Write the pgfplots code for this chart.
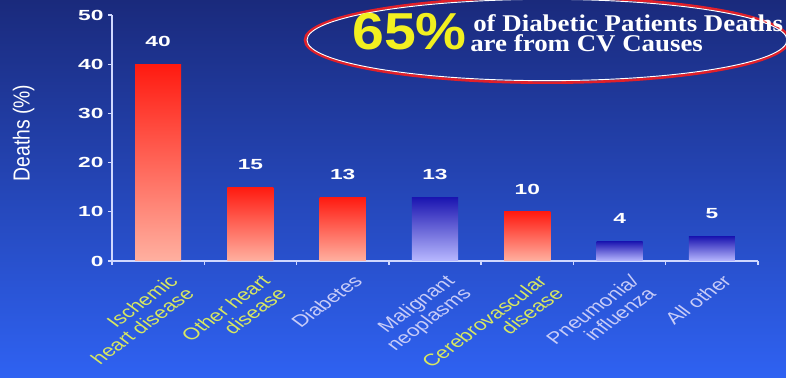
\documentclass[border=0pt]{standalone}
\usepackage{pgfplots}
\pgfplotsset{compat=1.18}
\usepackage{fontspec}
\setmainfont{Liberation Sans}
\newfontfamily\serifb{Liberation Serif}
\definecolor{bgtop}{HTML}{1A2A7C}
\definecolor{bgbot}{HTML}{2F62F2}
\definecolor{axiscol}{HTML}{D0D8FF}
\definecolor{redtop}{HTML}{FF1A10}
\definecolor{redmid}{HTML}{FF7A68}
\definecolor{redbot}{HTML}{FFB0A0}
\definecolor{bluetop}{HTML}{1A14B0}
\definecolor{bluemid}{HTML}{7C7CEA}
\definecolor{bluebot}{HTML}{B8B8FF}
\definecolor{labyel}{HTML}{D8E860}
\definecolor{lablav}{HTML}{C8CCF8}
\definecolor{bigyel}{HTML}{F2F020}
\definecolor{ellred}{HTML}{E0202A}
\pgfplotsset{
  redbar/.style={ybar, bar width=0.5, bar shift=0pt, draw=none,
    top color=redtop, middle color=redmid, bottom color=redbot},
  bluebar/.style={ybar, bar width=0.5, bar shift=0pt, draw=none,
    top color=bluetop, middle color=bluemid, bottom color=bluebot},
}
\begin{document}
\begin{tikzpicture}
\shade[top color=bgtop,bottom color=bgbot] (0,0) rectangle (589.5pt,283.5pt);
\begin{axis}[
  at={(84pt,87.75pt)}, anchor=south west,
  scale only axis, width=484.5pt, height=184.5pt,
  xmin=-0.5, xmax=6.5, ymin=0, ymax=50,
  /pgf/number format/assume math mode=true,
  axis x line=bottom, axis y line=left,
  axis line style={-, draw=axiscol, line width=1.5pt},
  tick align=outside, major tick length=3pt, minor tick length=3pt,
  tick style={draw=axiscol, line width=1pt},
  ytick={0,10,...,50},
  yticklabel style={font=\bfseries\fontsize{11}{12}\selectfont, text=white, xscale=1.55, anchor=east, inner sep=2pt},
  xtick={0,...,6},
  xtick style={draw=none},
  minor xtick={-0.5,0.5,...,6.5},
  minor x tick style={draw=axiscol, line width=1pt},
  xticklabels={
    {\color{labyel}Ischemic\\\color{labyel}heart disease},
    {\color{labyel}Other heart\\\color{labyel}disease},
    {\color{lablav}Diabetes},
    {\color{lablav}Malignant\\\color{lablav}neoplasms},
    {\color{labyel}Cerebrovascular\\\color{labyel}disease},
    {\color{lablav}Pneumonia/\\\color{lablav}influenza},
    {\color{lablav}All other}},
  xticklabel style={xshift=7pt, yshift=-5pt, xscale=1.35, rotate=45, anchor=north east, align=right,
    font=\fontsize{12.5}{13}\selectfont, inner sep=1pt},
  ylabel={Deaths (\%)},
  every axis y label/.style={at={(axis description cs:-0.137,0.52)}, anchor=center,
    xscale=1.2, rotate=90, font=\fontsize{14.5}{16}\selectfont, text=white},
  nodes near coords,
  every node near coord/.append style={font=\bfseries\fontsize{11}{12}\selectfont,
    text=white, anchor=south, yshift=9.5pt, xscale=1.55},
  clip=false,
]
\addplot[redbar] coordinates {(0,40)};
\addplot[redbar] coordinates {(1,15)};
\addplot[redbar] coordinates {(2,13)};
\addplot[bluebar] coordinates {(3,13)};
\addplot[redbar] coordinates {(4,10)};
\addplot[bluebar] coordinates {(5,4)};
\addplot[bluebar] coordinates {(6,5)};
\end{axis}
\draw[ellred, line width=2pt] (410.25pt,253.5pt) ellipse [x radius=181.5pt, y radius=32pt];
\draw[white, line width=0.7pt] (410.25pt,253.5pt) ellipse [x radius=180pt, y radius=30.5pt];
\node[anchor=base west, inner sep=0pt, text=bigyel, xscale=1.1, font=\bfseries\fontsize{39}{40}\selectfont]
  at (264pt,246pt) {65\%};
\node[anchor=base west, inner sep=0pt, text=white, xscale=1.12, font=\serifb\bfseries\fontsize{18}{20}\selectfont]
  at (354.75pt,259.5pt) {of Diabetic Patients Deaths};
\node[anchor=base west, inner sep=0pt, text=white, xscale=1.12, font=\serifb\bfseries\fontsize{18}{20}\selectfont]
  at (352.5pt,244.5pt) {are from CV Causes};
\pgfresetboundingbox
\path (0,0) rectangle (589.5pt,283.5pt);
\end{tikzpicture}
\end{document}
